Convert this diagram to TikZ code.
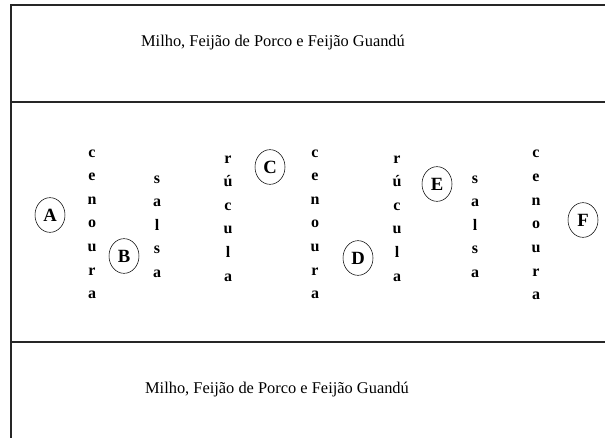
\documentclass[tikz,border=0pt]{standalone}
\usepackage{fontspec}
\setmainfont{Liberation Serif}
\usetikzlibrary{shapes.geometric}
\tikzset{
  planta/.style={font=\bfseries\fontsize{12}{14}\selectfont,anchor=base,inner sep=0pt},
  ponto/.style={draw,ellipse,font=\bfseries\fontsize{14}{16}\selectfont,minimum width=22.5pt,minimum height=26pt,inner sep=0pt},
  faixa/.style={font=\fontsize{12.3}{14}\selectfont,anchor=base,inner sep=0pt}
}
\begin{document}
\begin{tikzpicture}[x=0.75pt,y=-0.75pt]
\useasboundingbox (0,0) rectangle (605,438);
\draw[line width=1pt,black!85] (605,5) -- (11,5) -- (11,438);
\draw[line width=1pt,black!85] (11,102) -- (605,102);
\draw[line width=1pt,black!85] (11,342) -- (605,342);
\node[faixa] (topo) at (273,47) {Milho, Feijão de Porco e Feijão Guandú};
\node[faixa] (baixo) at (277,393) {Milho, Feijão de Porco e Feijão Guandú};

% canteiros
\foreach \l [count=\i from 0] in {c,e,n,o,u,r,a}
  \node[planta] (cen1-\i) at (92,157+23.6*\i) {\l};
\foreach \l [count=\i from 0] in {s,a,l,s,a}
  \node[planta] (sal1-\i) at (157,183+23.6*\i) {\l};
\foreach \l [count=\i from 0] in {r,ú,c,u,l,a}
  \node[planta] (ruc1-\i) at (228,163+23.6*\i) {\l};
\foreach \l [count=\i from 0] in {c,e,n,o,u,r,a}
  \node[planta] (cen2-\i) at (315,157+23.6*\i) {\l};
\foreach \l [count=\i from 0] in {r,ú,c,u,l,a}
  \node[planta] (ruc2-\i) at (397,163+23.6*\i) {\l};
\foreach \l [count=\i from 0] in {s,a,l,s,a}
  \node[planta] (sal2-\i) at (475,183+23.6*\i) {\l};
\foreach \l [count=\i from 0] in {c,e,n,o,u,r,a}
  \node[planta] (cen3-\i) at (536,158+23.6*\i) {\l};

% pontos
\node[ponto] (a) at (50,215) {A};
\node[ponto] (b) at (124,256) {B};
\node[ponto] (c) at (270,167) {C};
\node[ponto] (d) at (358,258) {D};
\node[ponto] (e) at (437,184) {E};
\node[ponto] (f) at (583,220) {F};
\end{tikzpicture}
\end{document}
